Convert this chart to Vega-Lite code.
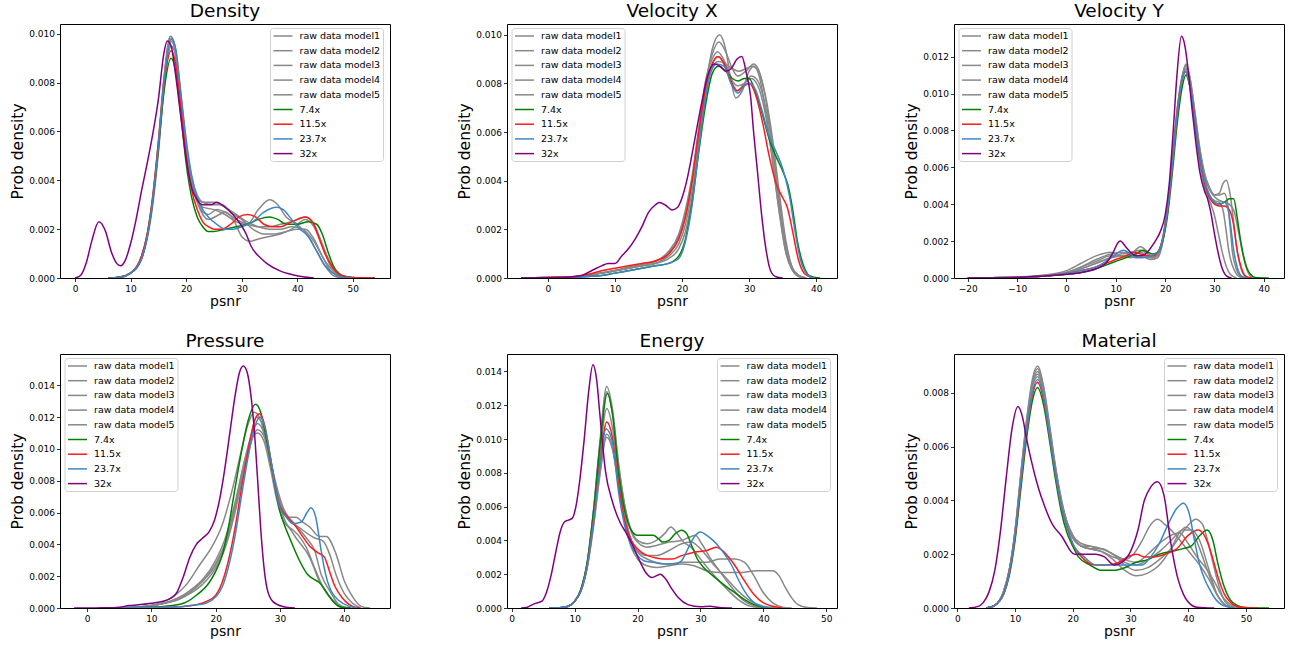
{
"$schema":"https://vega.github.io/schema/vega-lite/v6.json",
"background":"white",
"padding":{"left":10,"top":1,"right":0,"bottom":0},
"config":{
 "font":"DejaVu Sans",
 "view":{"stroke":"#000","strokeWidth":1},
 "axis":{"labelFont":"DejaVu Sans","labelFontSize":9,"labelColor":"#000","titleFont":"DejaVu Sans","titleFontWeight":"normal","titleColor":"#000","tickColor":"#000","tickSize":3.5,"tickWidth":0.8,"domain":false,"grid":false,"labelFlush":false,"labelOverlap":false},
 "axisX":{"labelPadding":2.5,"titlePadding":1,"titleFontSize":14},
 "axisY":{"labelPadding":2,"titlePadding":3,"titleFontSize":15.5},
 "title":{"font":"DejaVu Sans","fontSize":18.5,"fontWeight":"normal","color":"#000","baseline":"alphabetic","offset":4,"anchor":"middle","frame":"group"},
 "legend":{"labelFont":"DejaVu Sans","labelFontSize":9.5,"labelColor":"#000","symbolType":"M-1.9,0L1.9,0","symbolSize":100,"symbolStrokeWidth":1.5,"symbolOffset":5,"padding":2,"strokeColor":"#d0d0d0","fillColor":"white","cornerRadius":3,"rowPadding":3.7,"labelOffset":10.5,"title":null,"orient":"none","legendY":4},
 "line":{"interpolate":"monotone","strokeWidth":1.5}
},
"datasets":{
"d1":[
{"s":"m1","x":6,"y":0},{"s":"m1","x":8,"y":0.00003},{"s":"m1","x":10,"y":0.0002},{"s":"m1","x":12,"y":0.0009},{"s":"m1","x":13,"y":0.0018},{"s":"m1","x":14,"y":0.0033},{"s":"m1","x":15,"y":0.0055},{"s":"m1","x":16,"y":0.0081},{"s":"m1","x":17.2,"y":0.0099},{"s":"m1","x":18,"y":0.0094},{"s":"m1","x":19,"y":0.0074},{"s":"m1","x":20,"y":0.0053},{"s":"m1","x":21,"y":0.0039},{"s":"m1","x":22,"y":0.0033},{"s":"m1","x":23,"y":0.0031},{"s":"m1","x":25,"y":0.0031},{"s":"m1","x":27,"y":0.0029},{"s":"m1","x":29,"y":0.0026},{"s":"m1","x":31,"y":0.0023},{"s":"m1","x":33,"y":0.0021},{"s":"m1","x":35,"y":0.002},{"s":"m1","x":37,"y":0.002},{"s":"m1","x":39,"y":0.0021},{"s":"m1","x":41,"y":0.002},{"s":"m1","x":43,"y":0.0015},{"s":"m1","x":45,"y":0.0007},{"s":"m1","x":47,"y":0.0002},{"s":"m1","x":49,"y":0.00003},{"s":"m1","x":50,"y":0},
{"s":"m2","x":6,"y":0},{"s":"m2","x":8,"y":0.00003},{"s":"m2","x":10,"y":0.0002},{"s":"m2","x":12,"y":0.0009},{"s":"m2","x":13,"y":0.0017},{"s":"m2","x":14,"y":0.0031},{"s":"m2","x":15,"y":0.0052},{"s":"m2","x":16,"y":0.0078},{"s":"m2","x":17.3,"y":0.0097},{"s":"m2","x":18,"y":0.0093},{"s":"m2","x":19,"y":0.0075},{"s":"m2","x":20,"y":0.0054},{"s":"m2","x":21,"y":0.0039},{"s":"m2","x":22,"y":0.0031},{"s":"m2","x":23,"y":0.0026},{"s":"m2","x":24,"y":0.0024},{"s":"m2","x":26,"y":0.0026},{"s":"m2","x":27,"y":0.0027},{"s":"m2","x":28.5,"y":0.0024},{"s":"m2","x":30,"y":0.0017},{"s":"m2","x":31.5,"y":0.0015},{"s":"m2","x":33,"y":0.0016},{"s":"m2","x":35,"y":0.0017},{"s":"m2","x":37,"y":0.0018},{"s":"m2","x":39,"y":0.002},{"s":"m2","x":41.5,"y":0.0024},{"s":"m2","x":43,"y":0.0021},{"s":"m2","x":44.5,"y":0.0013},{"s":"m2","x":46,"y":0.0005},{"s":"m2","x":47.5,"y":0.0001},{"s":"m2","x":49,"y":0},
{"s":"m3","x":6,"y":0},{"s":"m3","x":8,"y":0.00003},{"s":"m3","x":10,"y":0.0002},{"s":"m3","x":12,"y":0.0008},{"s":"m3","x":13,"y":0.0016},{"s":"m3","x":14,"y":0.003},{"s":"m3","x":15,"y":0.0051},{"s":"m3","x":16,"y":0.0077},{"s":"m3","x":17.3,"y":0.0095},{"s":"m3","x":18,"y":0.0092},{"s":"m3","x":19,"y":0.0074},{"s":"m3","x":20,"y":0.0054},{"s":"m3","x":21,"y":0.004},{"s":"m3","x":22,"y":0.0032},{"s":"m3","x":23,"y":0.0029},{"s":"m3","x":25,"y":0.0028},{"s":"m3","x":27,"y":0.0026},{"s":"m3","x":29,"y":0.0023},{"s":"m3","x":31,"y":0.0022},{"s":"m3","x":33,"y":0.0028},{"s":"m3","x":35,"y":0.0032},{"s":"m3","x":36.5,"y":0.003},{"s":"m3","x":38,"y":0.0025},{"s":"m3","x":40,"y":0.0022},{"s":"m3","x":42,"y":0.0017},{"s":"m3","x":43.5,"y":0.0011},{"s":"m3","x":45,"y":0.0005},{"s":"m3","x":46.5,"y":0.0001},{"s":"m3","x":48,"y":0},
{"s":"m4","x":6,"y":0},{"s":"m4","x":8,"y":0.00003},{"s":"m4","x":10,"y":0.0002},{"s":"m4","x":12,"y":0.0009},{"s":"m4","x":13,"y":0.0018},{"s":"m4","x":14,"y":0.0034},{"s":"m4","x":15,"y":0.0056},{"s":"m4","x":16,"y":0.0082},{"s":"m4","x":17.2,"y":0.0099},{"s":"m4","x":18,"y":0.0095},{"s":"m4","x":19,"y":0.0076},{"s":"m4","x":20,"y":0.0055},{"s":"m4","x":21,"y":0.004},{"s":"m4","x":22,"y":0.0032},{"s":"m4","x":23,"y":0.0027},{"s":"m4","x":24,"y":0.0026},{"s":"m4","x":25.5,"y":0.0028},{"s":"m4","x":27,"y":0.0027},{"s":"m4","x":29,"y":0.0024},{"s":"m4","x":31,"y":0.0022},{"s":"m4","x":33,"y":0.0021},{"s":"m4","x":35,"y":0.0021},{"s":"m4","x":37,"y":0.0022},{"s":"m4","x":39,"y":0.0023},{"s":"m4","x":41.5,"y":0.0025},{"s":"m4","x":43,"y":0.0022},{"s":"m4","x":44.5,"y":0.0014},{"s":"m4","x":46,"y":0.0006},{"s":"m4","x":47.5,"y":0.0002},{"s":"m4","x":49,"y":0},
{"s":"m5","x":6,"y":0},{"s":"m5","x":8,"y":0.00003},{"s":"m5","x":10,"y":0.0002},{"s":"m5","x":12,"y":0.0008},{"s":"m5","x":13,"y":0.0017},{"s":"m5","x":14,"y":0.0032},{"s":"m5","x":15,"y":0.0053},{"s":"m5","x":16,"y":0.008},{"s":"m5","x":17.2,"y":0.0098},{"s":"m5","x":18,"y":0.0094},{"s":"m5","x":19,"y":0.0075},{"s":"m5","x":20,"y":0.0055},{"s":"m5","x":21,"y":0.0041},{"s":"m5","x":22,"y":0.0034},{"s":"m5","x":23,"y":0.0031},{"s":"m5","x":25,"y":0.003},{"s":"m5","x":26.5,"y":0.003},{"s":"m5","x":28,"y":0.0027},{"s":"m5","x":30,"y":0.0024},{"s":"m5","x":32,"y":0.002},{"s":"m5","x":34,"y":0.0018},{"s":"m5","x":36,"y":0.0018},{"s":"m5","x":38,"y":0.0019},{"s":"m5","x":40,"y":0.002},{"s":"m5","x":41.5,"y":0.002},{"s":"m5","x":43,"y":0.0016},{"s":"m5","x":44.5,"y":0.0009},{"s":"m5","x":46,"y":0.0003},{"s":"m5","x":48,"y":0.00005},{"s":"m5","x":50,"y":0},
{"s":"7.4x","x":6,"y":0},{"s":"7.4x","x":8,"y":0.00003},{"s":"7.4x","x":10,"y":0.0002},{"s":"7.4x","x":12,"y":0.0008},{"s":"7.4x","x":13,"y":0.0017},{"s":"7.4x","x":14,"y":0.0032},{"s":"7.4x","x":15,"y":0.0053},{"s":"7.4x","x":16,"y":0.0076},{"s":"7.4x","x":17.3,"y":0.009},{"s":"7.4x","x":18,"y":0.0086},{"s":"7.4x","x":19,"y":0.0068},{"s":"7.4x","x":20,"y":0.0047},{"s":"7.4x","x":21,"y":0.0033},{"s":"7.4x","x":22,"y":0.0025},{"s":"7.4x","x":23,"y":0.0021},{"s":"7.4x","x":24,"y":0.0019},{"s":"7.4x","x":25,"y":0.0019},{"s":"7.4x","x":27,"y":0.002},{"s":"7.4x","x":29,"y":0.0021},{"s":"7.4x","x":31,"y":0.0022},{"s":"7.4x","x":33,"y":0.0024},{"s":"7.4x","x":35,"y":0.0025},{"s":"7.4x","x":36.5,"y":0.0024},{"s":"7.4x","x":38,"y":0.0022},{"s":"7.4x","x":40,"y":0.0022},{"s":"7.4x","x":42,"y":0.0023},{"s":"7.4x","x":43.5,"y":0.0022},{"s":"7.4x","x":44.5,"y":0.0018},{"s":"7.4x","x":45.5,"y":0.0011},{"s":"7.4x","x":46.5,"y":0.0005},{"s":"7.4x","x":48,"y":0.0001},{"s":"7.4x","x":50,"y":0.00002},{"s":"7.4x","x":54,"y":0},
{"s":"11.5x","x":6,"y":0},{"s":"11.5x","x":8,"y":0.00003},{"s":"11.5x","x":10,"y":0.0002},{"s":"11.5x","x":12,"y":0.0009},{"s":"11.5x","x":13,"y":0.0018},{"s":"11.5x","x":14,"y":0.0033},{"s":"11.5x","x":15,"y":0.0055},{"s":"11.5x","x":16,"y":0.0079},{"s":"11.5x","x":17.3,"y":0.0093},{"s":"11.5x","x":18,"y":0.0089},{"s":"11.5x","x":19,"y":0.0071},{"s":"11.5x","x":20,"y":0.005},{"s":"11.5x","x":21,"y":0.0036},{"s":"11.5x","x":22,"y":0.0028},{"s":"11.5x","x":23,"y":0.0023},{"s":"11.5x","x":24,"y":0.0021},{"s":"11.5x","x":25,"y":0.002},{"s":"11.5x","x":26.5,"y":0.002},{"s":"11.5x","x":28,"y":0.0022},{"s":"11.5x","x":29.5,"y":0.0025},{"s":"11.5x","x":31,"y":0.0026},{"s":"11.5x","x":32.5,"y":0.0025},{"s":"11.5x","x":34,"y":0.0022},{"s":"11.5x","x":35.5,"y":0.0021},{"s":"11.5x","x":37,"y":0.0021},{"s":"11.5x","x":39,"y":0.0023},{"s":"11.5x","x":41.5,"y":0.0025},{"s":"11.5x","x":43,"y":0.0022},{"s":"11.5x","x":44,"y":0.0016},{"s":"11.5x","x":45,"y":0.001},{"s":"11.5x","x":46.5,"y":0.0004},{"s":"11.5x","x":48,"y":0.0001},{"s":"11.5x","x":50,"y":0.00002},{"s":"11.5x","x":54,"y":0},
{"s":"23.7x","x":6,"y":0},{"s":"23.7x","x":8,"y":0.00003},{"s":"23.7x","x":10,"y":0.0002},{"s":"23.7x","x":12,"y":0.0008},{"s":"23.7x","x":13,"y":0.0017},{"s":"23.7x","x":14,"y":0.0032},{"s":"23.7x","x":15,"y":0.0054},{"s":"23.7x","x":16,"y":0.008},{"s":"23.7x","x":17.4,"y":0.0098},{"s":"23.7x","x":18.2,"y":0.0093},{"s":"23.7x","x":19,"y":0.0077},{"s":"23.7x","x":20,"y":0.0057},{"s":"23.7x","x":21,"y":0.0042},{"s":"23.7x","x":22,"y":0.0033},{"s":"23.7x","x":23,"y":0.0028},{"s":"23.7x","x":24,"y":0.0025},{"s":"23.7x","x":25.5,"y":0.0022},{"s":"23.7x","x":27,"y":0.002},{"s":"23.7x","x":28.5,"y":0.002},{"s":"23.7x","x":30,"y":0.0021},{"s":"23.7x","x":32,"y":0.0023},{"s":"23.7x","x":34,"y":0.0027},{"s":"23.7x","x":36.3,"y":0.0029},{"s":"23.7x","x":37.5,"y":0.0028},{"s":"23.7x","x":39,"y":0.0024},{"s":"23.7x","x":40.5,"y":0.002},{"s":"23.7x","x":42,"y":0.0017},{"s":"23.7x","x":43.5,"y":0.0011},{"s":"23.7x","x":45,"y":0.0005},{"s":"23.7x","x":46.5,"y":0.0002},{"s":"23.7x","x":48,"y":0.00003},{"s":"23.7x","x":50,"y":0},
{"s":"32x","x":0,"y":0},{"s":"32x","x":1,"y":0.0001},{"s":"32x","x":2,"y":0.0006},{"s":"32x","x":3,"y":0.0015},{"s":"32x","x":4.3,"y":0.0023},{"s":"32x","x":5.5,"y":0.0019},{"s":"32x","x":6.5,"y":0.0011},{"s":"32x","x":7.5,"y":0.0006},{"s":"32x","x":8.2,"y":0.0005},{"s":"32x","x":9,"y":0.0007},{"s":"32x","x":10,"y":0.0014},{"s":"32x","x":11,"y":0.0024},{"s":"32x","x":12,"y":0.0036},{"s":"32x","x":13,"y":0.0047},{"s":"32x","x":14,"y":0.0059},{"s":"32x","x":15,"y":0.0073},{"s":"32x","x":16,"y":0.0092},{"s":"32x","x":16.6,"y":0.0097},{"s":"32x","x":17.3,"y":0.0095},{"s":"32x","x":18,"y":0.0085},{"s":"32x","x":19,"y":0.0067},{"s":"32x","x":20,"y":0.0049},{"s":"32x","x":21,"y":0.0037},{"s":"32x","x":22,"y":0.0032},{"s":"32x","x":23,"y":0.003},{"s":"32x","x":24.5,"y":0.003},{"s":"32x","x":25.5,"y":0.0031},{"s":"32x","x":27,"y":0.0029},{"s":"32x","x":28.4,"y":0.0026},{"s":"32x","x":29.8,"y":0.0022},{"s":"32x","x":30.8,"y":0.0018},{"s":"32x","x":31.7,"y":0.0013},{"s":"32x","x":32.6,"y":0.001},{"s":"32x","x":33.5,"y":0.0008},{"s":"32x","x":34.5,"y":0.0006},{"s":"32x","x":36.8,"y":0.0003},{"s":"32x","x":39,"y":0.00014},{"s":"32x","x":41,"y":0.00005},{"s":"32x","x":43,"y":0}
],
"d2":[
{"s":"m1","x":-4,"y":0},{"s":"m1","x":0,"y":0.00002},{"s":"m1","x":4,"y":0.00005},{"s":"m1","x":6,"y":0.0001},{"s":"m1","x":8,"y":0.0002},{"s":"m1","x":10,"y":0.0003},{"s":"m1","x":12,"y":0.0004},{"s":"m1","x":14,"y":0.0005},{"s":"m1","x":16,"y":0.0006},{"s":"m1","x":18,"y":0.0009},{"s":"m1","x":19.5,"y":0.0014},{"s":"m1","x":20.5,"y":0.0022},{"s":"m1","x":21.5,"y":0.0036},{"s":"m1","x":22.5,"y":0.0056},{"s":"m1","x":23.5,"y":0.0078},{"s":"m1","x":24.5,"y":0.0094},{"s":"m1","x":25.6,"y":0.01},{"s":"m1","x":26.5,"y":0.0094},{"s":"m1","x":27.3,"y":0.0081},{"s":"m1","x":28,"y":0.0074},{"s":"m1","x":29,"y":0.0077},{"s":"m1","x":30,"y":0.0085},{"s":"m1","x":30.8,"y":0.0087},{"s":"m1","x":31.5,"y":0.0083},{"s":"m1","x":32.5,"y":0.0068},{"s":"m1","x":33.5,"y":0.0048},{"s":"m1","x":34.5,"y":0.0027},{"s":"m1","x":35.5,"y":0.001},{"s":"m1","x":36.5,"y":0.0003},{"s":"m1","x":37.5,"y":0.00005},{"s":"m1","x":38.5,"y":0},
{"s":"m2","x":-4,"y":0},{"s":"m2","x":0,"y":0.00002},{"s":"m2","x":4,"y":0.00005},{"s":"m2","x":6,"y":0.0001},{"s":"m2","x":8,"y":0.0002},{"s":"m2","x":10,"y":0.0003},{"s":"m2","x":12,"y":0.0004},{"s":"m2","x":14,"y":0.0005},{"s":"m2","x":16,"y":0.0006},{"s":"m2","x":18,"y":0.001},{"s":"m2","x":19.5,"y":0.0017},{"s":"m2","x":20.5,"y":0.0026},{"s":"m2","x":21.5,"y":0.004},{"s":"m2","x":22.5,"y":0.006},{"s":"m2","x":23.5,"y":0.008},{"s":"m2","x":24.5,"y":0.0092},{"s":"m2","x":25.5,"y":0.0097},{"s":"m2","x":26.5,"y":0.0093},{"s":"m2","x":27.5,"y":0.0086},{"s":"m2","x":28.3,"y":0.0083},{"s":"m2","x":29.5,"y":0.0085},{"s":"m2","x":30.7,"y":0.0088},{"s":"m2","x":31.5,"y":0.0085},{"s":"m2","x":32.5,"y":0.0073},{"s":"m2","x":33.5,"y":0.0053},{"s":"m2","x":34.5,"y":0.003},{"s":"m2","x":35.5,"y":0.0012},{"s":"m2","x":36.5,"y":0.0003},{"s":"m2","x":37.5,"y":0.00005},{"s":"m2","x":38.5,"y":0},
{"s":"m3","x":-4,"y":0},{"s":"m3","x":0,"y":0.00002},{"s":"m3","x":4,"y":0.00006},{"s":"m3","x":6,"y":0.00012},{"s":"m3","x":8,"y":0.00022},{"s":"m3","x":10,"y":0.00032},{"s":"m3","x":12,"y":0.00045},{"s":"m3","x":14,"y":0.00055},{"s":"m3","x":16,"y":0.00068},{"s":"m3","x":18,"y":0.0011},{"s":"m3","x":19.5,"y":0.0018},{"s":"m3","x":20.5,"y":0.0028},{"s":"m3","x":21.5,"y":0.0042},{"s":"m3","x":22.5,"y":0.0062},{"s":"m3","x":23.5,"y":0.0081},{"s":"m3","x":24.5,"y":0.009},{"s":"m3","x":25.3,"y":0.0093},{"s":"m3","x":26.5,"y":0.0088},{"s":"m3","x":27.5,"y":0.0081},{"s":"m3","x":28.3,"y":0.0079},{"s":"m3","x":29.3,"y":0.008},{"s":"m3","x":30.3,"y":0.0082},{"s":"m3","x":31.3,"y":0.0079},{"s":"m3","x":32.3,"y":0.0069},{"s":"m3","x":33.3,"y":0.0052},{"s":"m3","x":34.3,"y":0.0031},{"s":"m3","x":35.3,"y":0.0013},{"s":"m3","x":36.3,"y":0.0004},{"s":"m3","x":37.3,"y":0.0001},{"s":"m3","x":38.5,"y":0},
{"s":"m4","x":-4,"y":0},{"s":"m4","x":0,"y":0.00002},{"s":"m4","x":4,"y":0.00005},{"s":"m4","x":6,"y":0.0001},{"s":"m4","x":8,"y":0.0002},{"s":"m4","x":10,"y":0.0003},{"s":"m4","x":12,"y":0.0004},{"s":"m4","x":14,"y":0.0005},{"s":"m4","x":16,"y":0.0006},{"s":"m4","x":18,"y":0.0008},{"s":"m4","x":19.5,"y":0.0012},{"s":"m4","x":20.5,"y":0.0019},{"s":"m4","x":21.5,"y":0.0033},{"s":"m4","x":22.5,"y":0.0054},{"s":"m4","x":23.5,"y":0.0075},{"s":"m4","x":24.5,"y":0.0088},{"s":"m4","x":25.5,"y":0.0091},{"s":"m4","x":26.5,"y":0.0086},{"s":"m4","x":27.5,"y":0.0079},{"s":"m4","x":28.3,"y":0.0077},{"s":"m4","x":29.3,"y":0.008},{"s":"m4","x":30.3,"y":0.0083},{"s":"m4","x":31.3,"y":0.0081},{"s":"m4","x":32.3,"y":0.0072},{"s":"m4","x":33.3,"y":0.0057},{"s":"m4","x":34.3,"y":0.0036},{"s":"m4","x":35.3,"y":0.0016},{"s":"m4","x":36.3,"y":0.0005},{"s":"m4","x":37.3,"y":0.0001},{"s":"m4","x":38.5,"y":0},
{"s":"m5","x":-4,"y":0},{"s":"m5","x":0,"y":0.00002},{"s":"m5","x":4,"y":0.00005},{"s":"m5","x":6,"y":0.0001},{"s":"m5","x":8,"y":0.0002},{"s":"m5","x":10,"y":0.0003},{"s":"m5","x":12,"y":0.0004},{"s":"m5","x":14,"y":0.00055},{"s":"m5","x":16,"y":0.0007},{"s":"m5","x":18,"y":0.001},{"s":"m5","x":19.5,"y":0.0016},{"s":"m5","x":20.5,"y":0.0025},{"s":"m5","x":21.5,"y":0.004},{"s":"m5","x":22.5,"y":0.0061},{"s":"m5","x":23.5,"y":0.0079},{"s":"m5","x":24.5,"y":0.0087},{"s":"m5","x":25.5,"y":0.0089},{"s":"m5","x":26.5,"y":0.0088},{"s":"m5","x":27.5,"y":0.0086},{"s":"m5","x":28.5,"y":0.0085},{"s":"m5","x":29.5,"y":0.0086},{"s":"m5","x":30.5,"y":0.0087},{"s":"m5","x":31.5,"y":0.0084},{"s":"m5","x":32.5,"y":0.0074},{"s":"m5","x":33.5,"y":0.0057},{"s":"m5","x":34.5,"y":0.0035},{"s":"m5","x":35.5,"y":0.0015},{"s":"m5","x":36.5,"y":0.0004},{"s":"m5","x":37.5,"y":0.0001},{"s":"m5","x":38.5,"y":0},
{"s":"7.4x","x":-4,"y":0},{"s":"7.4x","x":0,"y":0.00001},{"s":"7.4x","x":4,"y":0.00003},{"s":"7.4x","x":6,"y":0.00006},{"s":"7.4x","x":8,"y":0.0001},{"s":"7.4x","x":10,"y":0.0002},{"s":"7.4x","x":12,"y":0.0003},{"s":"7.4x","x":14,"y":0.0004},{"s":"7.4x","x":16,"y":0.0005},{"s":"7.4x","x":18,"y":0.0006},{"s":"7.4x","x":19.5,"y":0.0009},{"s":"7.4x","x":20.5,"y":0.0016},{"s":"7.4x","x":21.5,"y":0.0031},{"s":"7.4x","x":22.5,"y":0.0052},{"s":"7.4x","x":23.5,"y":0.0071},{"s":"7.4x","x":24.5,"y":0.0084},{"s":"7.4x","x":25.4,"y":0.0087},{"s":"7.4x","x":26.5,"y":0.0085},{"s":"7.4x","x":27.5,"y":0.0082},{"s":"7.4x","x":28.4,"y":0.0081},{"s":"7.4x","x":29.3,"y":0.0082},{"s":"7.4x","x":30,"y":0.0082},{"s":"7.4x","x":31,"y":0.0076},{"s":"7.4x","x":32,"y":0.0067},{"s":"7.4x","x":33,"y":0.0057},{"s":"7.4x","x":34,"y":0.005},{"s":"7.4x","x":35,"y":0.0044},{"s":"7.4x","x":35.8,"y":0.0038},{"s":"7.4x","x":36.5,"y":0.0028},{"s":"7.4x","x":37.2,"y":0.0015},{"s":"7.4x","x":38,"y":0.0006},{"s":"7.4x","x":39,"y":0.0001},{"s":"7.4x","x":40.6,"y":0},
{"s":"11.5x","x":-4,"y":0},{"s":"11.5x","x":0,"y":0.00002},{"s":"11.5x","x":4,"y":0.00006},{"s":"11.5x","x":6,"y":0.00015},{"s":"11.5x","x":8,"y":0.0003},{"s":"11.5x","x":10,"y":0.0004},{"s":"11.5x","x":12,"y":0.0005},{"s":"11.5x","x":14,"y":0.0006},{"s":"11.5x","x":16,"y":0.0007},{"s":"11.5x","x":18,"y":0.001},{"s":"11.5x","x":19.5,"y":0.0016},{"s":"11.5x","x":20.5,"y":0.0025},{"s":"11.5x","x":21.5,"y":0.004},{"s":"11.5x","x":22.5,"y":0.006},{"s":"11.5x","x":23.5,"y":0.0078},{"s":"11.5x","x":24.5,"y":0.0088},{"s":"11.5x","x":25.3,"y":0.0091},{"s":"11.5x","x":26.3,"y":0.0088},{"s":"11.5x","x":27.3,"y":0.0081},{"s":"11.5x","x":28.2,"y":0.0077},{"s":"11.5x","x":29.2,"y":0.0079},{"s":"11.5x","x":30,"y":0.008},{"s":"11.5x","x":31,"y":0.0075},{"s":"11.5x","x":32,"y":0.0064},{"s":"11.5x","x":33,"y":0.005},{"s":"11.5x","x":34,"y":0.0039},{"s":"11.5x","x":35,"y":0.0033},{"s":"11.5x","x":35.7,"y":0.0029},{"s":"11.5x","x":36.5,"y":0.0019},{"s":"11.5x","x":37.3,"y":0.0008},{"s":"11.5x","x":38.2,"y":0.0002},{"s":"11.5x","x":39.5,"y":0},
{"s":"23.7x","x":-4,"y":0},{"s":"23.7x","x":0,"y":0.00001},{"s":"23.7x","x":4,"y":0.00003},{"s":"23.7x","x":6,"y":0.00006},{"s":"23.7x","x":8,"y":0.0001},{"s":"23.7x","x":10,"y":0.0002},{"s":"23.7x","x":12,"y":0.0003},{"s":"23.7x","x":14,"y":0.0004},{"s":"23.7x","x":16,"y":0.0005},{"s":"23.7x","x":18,"y":0.0006},{"s":"23.7x","x":19.5,"y":0.0008},{"s":"23.7x","x":20.5,"y":0.0015},{"s":"23.7x","x":21.5,"y":0.003},{"s":"23.7x","x":22.5,"y":0.0053},{"s":"23.7x","x":23.5,"y":0.0074},{"s":"23.7x","x":24.5,"y":0.0086},{"s":"23.7x","x":25.2,"y":0.0088},{"s":"23.7x","x":26.3,"y":0.0087},{"s":"23.7x","x":27.3,"y":0.008},{"s":"23.7x","x":28.3,"y":0.0076},{"s":"23.7x","x":29.3,"y":0.0079},{"s":"23.7x","x":30.2,"y":0.008},{"s":"23.7x","x":31,"y":0.0077},{"s":"23.7x","x":32,"y":0.0068},{"s":"23.7x","x":33,"y":0.0058},{"s":"23.7x","x":34,"y":0.0052},{"s":"23.7x","x":35,"y":0.0045},{"s":"23.7x","x":36,"y":0.0034},{"s":"23.7x","x":36.8,"y":0.002},{"s":"23.7x","x":37.6,"y":0.0008},{"s":"23.7x","x":38.5,"y":0.0002},{"s":"23.7x","x":39.5,"y":0},
{"s":"32x","x":-4,"y":0},{"s":"32x","x":0,"y":0.00001},{"s":"32x","x":3,"y":0.00003},{"s":"32x","x":5,"y":0.0001},{"s":"32x","x":6.5,"y":0.0003},{"s":"32x","x":8,"y":0.0005},{"s":"32x","x":9,"y":0.0006},{"s":"32x","x":10,"y":0.0006},{"s":"32x","x":11,"y":0.0009},{"s":"32x","x":12,"y":0.0012},{"s":"32x","x":13,"y":0.0016},{"s":"32x","x":14,"y":0.0021},{"s":"32x","x":15,"y":0.0027},{"s":"32x","x":16,"y":0.003},{"s":"32x","x":16.6,"y":0.0031},{"s":"32x","x":17.5,"y":0.003},{"s":"32x","x":18.5,"y":0.0028},{"s":"32x","x":19.3,"y":0.0029},{"s":"32x","x":20,"y":0.0033},{"s":"32x","x":20.7,"y":0.004},{"s":"32x","x":21.5,"y":0.0051},{"s":"32x","x":22.3,"y":0.0063},{"s":"32x","x":23,"y":0.0073},{"s":"32x","x":23.8,"y":0.0083},{"s":"32x","x":24.8,"y":0.0088},{"s":"32x","x":25.7,"y":0.0087},{"s":"32x","x":26.5,"y":0.0085},{"s":"32x","x":27.3,"y":0.0086},{"s":"32x","x":28.2,"y":0.009},{"s":"32x","x":28.9,"y":0.0091},{"s":"32x","x":29.6,"y":0.0084},{"s":"32x","x":30.2,"y":0.0075},{"s":"32x","x":30.7,"y":0.0059},{"s":"32x","x":31.2,"y":0.0045},{"s":"32x","x":31.9,"y":0.0025},{"s":"32x","x":32.5,"y":0.0012},{"s":"32x","x":33.2,"y":0.0003},{"s":"32x","x":34,"y":0.00005},{"s":"32x","x":35,"y":0}
],
"d3":[
{"s":"m1","x":-20,"y":0},{"s":"m1","x":-15,"y":0.00002},{"s":"m1","x":-10,"y":0.00005},{"s":"m1","x":-5,"y":0.00012},{"s":"m1","x":0,"y":0.0003},{"s":"m1","x":3,"y":0.0006},{"s":"m1","x":6,"y":0.001},{"s":"m1","x":9,"y":0.0013},{"s":"m1","x":11,"y":0.0014},{"s":"m1","x":13,"y":0.0013},{"s":"m1","x":15,"y":0.0012},{"s":"m1","x":17,"y":0.0011},{"s":"m1","x":18.5,"y":0.0013},{"s":"m1","x":19.5,"y":0.0022},{"s":"m1","x":20.5,"y":0.004},{"s":"m1","x":21.5,"y":0.0066},{"s":"m1","x":22.5,"y":0.0093},{"s":"m1","x":23.5,"y":0.011},{"s":"m1","x":24.2,"y":0.0114},{"s":"m1","x":25,"y":0.0107},{"s":"m1","x":26,"y":0.0088},{"s":"m1","x":27,"y":0.0068},{"s":"m1","x":28,"y":0.0055},{"s":"m1","x":29,"y":0.0048},{"s":"m1","x":30,"y":0.0045},{"s":"m1","x":31,"y":0.0045},{"s":"m1","x":32,"y":0.0046},{"s":"m1","x":32.7,"y":0.004},{"s":"m1","x":33.2,"y":0.0027},{"s":"m1","x":33.6,"y":0.0015},{"s":"m1","x":34.3,"y":0.0006},{"s":"m1","x":35.2,"y":0.0001},{"s":"m1","x":36,"y":0},
{"s":"m2","x":-20,"y":0},{"s":"m2","x":-15,"y":0.00002},{"s":"m2","x":-10,"y":0.00005},{"s":"m2","x":-5,"y":0.0001},{"s":"m2","x":0,"y":0.00025},{"s":"m2","x":3,"y":0.0005},{"s":"m2","x":6,"y":0.0008},{"s":"m2","x":9,"y":0.0011},{"s":"m2","x":11,"y":0.0012},{"s":"m2","x":13,"y":0.0013},{"s":"m2","x":15,"y":0.0017},{"s":"m2","x":16.5,"y":0.0014},{"s":"m2","x":17.5,"y":0.0011},{"s":"m2","x":18.5,"y":0.0013},{"s":"m2","x":19.5,"y":0.002},{"s":"m2","x":20.5,"y":0.0038},{"s":"m2","x":21.5,"y":0.0064},{"s":"m2","x":22.5,"y":0.0091},{"s":"m2","x":23.5,"y":0.0109},{"s":"m2","x":24.2,"y":0.0115},{"s":"m2","x":25,"y":0.0109},{"s":"m2","x":26,"y":0.0091},{"s":"m2","x":27,"y":0.0071},{"s":"m2","x":28,"y":0.0057},{"s":"m2","x":29,"y":0.0049},{"s":"m2","x":30,"y":0.0045},{"s":"m2","x":31,"y":0.0046},{"s":"m2","x":31.7,"y":0.0051},{"s":"m2","x":32.4,"y":0.0053},{"s":"m2","x":33.2,"y":0.0045},{"s":"m2","x":33.9,"y":0.003},{"s":"m2","x":34.6,"y":0.0015},{"s":"m2","x":35.3,"y":0.0006},{"s":"m2","x":36.2,"y":0.0001},{"s":"m2","x":37,"y":0},
{"s":"m3","x":-20,"y":0},{"s":"m3","x":-15,"y":0.00002},{"s":"m3","x":-10,"y":0.00006},{"s":"m3","x":-5,"y":0.00015},{"s":"m3","x":0,"y":0.0004},{"s":"m3","x":3,"y":0.0008},{"s":"m3","x":6,"y":0.0012},{"s":"m3","x":9,"y":0.0014},{"s":"m3","x":11,"y":0.0012},{"s":"m3","x":13,"y":0.0011},{"s":"m3","x":15,"y":0.0012},{"s":"m3","x":17,"y":0.001},{"s":"m3","x":18.5,"y":0.0011},{"s":"m3","x":19.5,"y":0.0019},{"s":"m3","x":20.5,"y":0.0037},{"s":"m3","x":21.5,"y":0.0063},{"s":"m3","x":22.5,"y":0.009},{"s":"m3","x":23.5,"y":0.0108},{"s":"m3","x":24.2,"y":0.0113},{"s":"m3","x":25,"y":0.0106},{"s":"m3","x":26,"y":0.0087},{"s":"m3","x":27,"y":0.0066},{"s":"m3","x":28,"y":0.0052},{"s":"m3","x":29,"y":0.0045},{"s":"m3","x":30,"y":0.0042},{"s":"m3","x":31,"y":0.0041},{"s":"m3","x":31.8,"y":0.0036},{"s":"m3","x":32.4,"y":0.0025},{"s":"m3","x":32.9,"y":0.0015},{"s":"m3","x":33.6,"y":0.0007},{"s":"m3","x":34.5,"y":0.0002},{"s":"m3","x":35.5,"y":0},
{"s":"m4","x":-20,"y":0},{"s":"m4","x":-15,"y":0.00002},{"s":"m4","x":-10,"y":0.00005},{"s":"m4","x":-5,"y":0.0001},{"s":"m4","x":0,"y":0.0003},{"s":"m4","x":3,"y":0.0005},{"s":"m4","x":6,"y":0.0008},{"s":"m4","x":9,"y":0.0011},{"s":"m4","x":11,"y":0.0013},{"s":"m4","x":13,"y":0.0014},{"s":"m4","x":15,"y":0.0015},{"s":"m4","x":16.5,"y":0.0013},{"s":"m4","x":17.5,"y":0.0011},{"s":"m4","x":18.5,"y":0.0013},{"s":"m4","x":19.5,"y":0.0021},{"s":"m4","x":20.5,"y":0.0039},{"s":"m4","x":21.5,"y":0.0065},{"s":"m4","x":22.5,"y":0.0092},{"s":"m4","x":23.5,"y":0.0109},{"s":"m4","x":24.2,"y":0.0112},{"s":"m4","x":25,"y":0.0104},{"s":"m4","x":26,"y":0.0083},{"s":"m4","x":27,"y":0.0062},{"s":"m4","x":28,"y":0.0049},{"s":"m4","x":29,"y":0.0042},{"s":"m4","x":30,"y":0.0034},{"s":"m4","x":30.8,"y":0.0024},{"s":"m4","x":31.5,"y":0.0015},{"s":"m4","x":32.3,"y":0.0007},{"s":"m4","x":33.2,"y":0.0002},{"s":"m4","x":34.5,"y":0},
{"s":"m5","x":-20,"y":0},{"s":"m5","x":-15,"y":0.00002},{"s":"m5","x":-10,"y":0.00005},{"s":"m5","x":-5,"y":0.0001},{"s":"m5","x":0,"y":0.0003},{"s":"m5","x":3,"y":0.0006},{"s":"m5","x":6,"y":0.0009},{"s":"m5","x":9,"y":0.0012},{"s":"m5","x":11,"y":0.0012},{"s":"m5","x":13,"y":0.0012},{"s":"m5","x":15,"y":0.0014},{"s":"m5","x":17,"y":0.0011},{"s":"m5","x":18.5,"y":0.0012},{"s":"m5","x":19.5,"y":0.002},{"s":"m5","x":20.5,"y":0.0038},{"s":"m5","x":21.5,"y":0.0065},{"s":"m5","x":22.5,"y":0.0092},{"s":"m5","x":23.5,"y":0.011},{"s":"m5","x":24.2,"y":0.0116},{"s":"m5","x":25,"y":0.0109},{"s":"m5","x":26,"y":0.009},{"s":"m5","x":27,"y":0.007},{"s":"m5","x":28,"y":0.0056},{"s":"m5","x":29,"y":0.0048},{"s":"m5","x":30,"y":0.0044},{"s":"m5","x":31,"y":0.0042},{"s":"m5","x":32,"y":0.0041},{"s":"m5","x":33,"y":0.004},{"s":"m5","x":34,"y":0.0036},{"s":"m5","x":34.8,"y":0.0026},{"s":"m5","x":35.6,"y":0.0015},{"s":"m5","x":36.4,"y":0.0006},{"s":"m5","x":37.3,"y":0.0001},{"s":"m5","x":38,"y":0},
{"s":"7.4x","x":-20,"y":0},{"s":"7.4x","x":-10,"y":0.00003},{"s":"7.4x","x":-5,"y":0.0001},{"s":"7.4x","x":0,"y":0.0002},{"s":"7.4x","x":3,"y":0.0003},{"s":"7.4x","x":6,"y":0.0005},{"s":"7.4x","x":8,"y":0.0007},{"s":"7.4x","x":10,"y":0.0009},{"s":"7.4x","x":12,"y":0.0011},{"s":"7.4x","x":14,"y":0.0013},{"s":"7.4x","x":15.5,"y":0.0015},{"s":"7.4x","x":16.5,"y":0.0014},{"s":"7.4x","x":17.5,"y":0.0013},{"s":"7.4x","x":18.5,"y":0.0014},{"s":"7.4x","x":19.5,"y":0.002},{"s":"7.4x","x":20.5,"y":0.0034},{"s":"7.4x","x":21.5,"y":0.0058},{"s":"7.4x","x":22.5,"y":0.0085},{"s":"7.4x","x":23.5,"y":0.0104},{"s":"7.4x","x":24.2,"y":0.011},{"s":"7.4x","x":25,"y":0.0104},{"s":"7.4x","x":26,"y":0.0086},{"s":"7.4x","x":27,"y":0.0066},{"s":"7.4x","x":28,"y":0.0052},{"s":"7.4x","x":29,"y":0.0044},{"s":"7.4x","x":30,"y":0.0041},{"s":"7.4x","x":31,"y":0.004},{"s":"7.4x","x":32,"y":0.0041},{"s":"7.4x","x":33,"y":0.0043},{"s":"7.4x","x":33.9,"y":0.0043},{"s":"7.4x","x":34.6,"y":0.0033},{"s":"7.4x","x":35.2,"y":0.0022},{"s":"7.4x","x":35.8,"y":0.0013},{"s":"7.4x","x":36.5,"y":0.0006},{"s":"7.4x","x":37.3,"y":0.0002},{"s":"7.4x","x":38.3,"y":0.00003},{"s":"7.4x","x":41,"y":0},
{"s":"11.5x","x":-20,"y":0},{"s":"11.5x","x":-10,"y":0.00003},{"s":"11.5x","x":-5,"y":0.0001},{"s":"11.5x","x":0,"y":0.00025},{"s":"11.5x","x":3,"y":0.0004},{"s":"11.5x","x":6,"y":0.0006},{"s":"11.5x","x":8,"y":0.0008},{"s":"11.5x","x":10,"y":0.001},{"s":"11.5x","x":12,"y":0.0012},{"s":"11.5x","x":14,"y":0.0014},{"s":"11.5x","x":15,"y":0.0013},{"s":"11.5x","x":16.5,"y":0.0012},{"s":"11.5x","x":17.5,"y":0.0012},{"s":"11.5x","x":18.5,"y":0.0014},{"s":"11.5x","x":19.5,"y":0.0021},{"s":"11.5x","x":20.5,"y":0.0037},{"s":"11.5x","x":21.5,"y":0.0062},{"s":"11.5x","x":22.5,"y":0.009},{"s":"11.5x","x":23.5,"y":0.0108},{"s":"11.5x","x":24.1,"y":0.0112},{"s":"11.5x","x":25,"y":0.0105},{"s":"11.5x","x":26,"y":0.0087},{"s":"11.5x","x":27,"y":0.0067},{"s":"11.5x","x":28,"y":0.0052},{"s":"11.5x","x":29,"y":0.0044},{"s":"11.5x","x":30,"y":0.004},{"s":"11.5x","x":31,"y":0.0039},{"s":"11.5x","x":32,"y":0.0039},{"s":"11.5x","x":33,"y":0.0037},{"s":"11.5x","x":33.8,"y":0.003},{"s":"11.5x","x":34.6,"y":0.0015},{"s":"11.5x","x":35.4,"y":0.0006},{"s":"11.5x","x":36.3,"y":0.0001},{"s":"11.5x","x":37.5,"y":0},
{"s":"23.7x","x":-20,"y":0},{"s":"23.7x","x":-10,"y":0.00003},{"s":"23.7x","x":-5,"y":0.0001},{"s":"23.7x","x":0,"y":0.00025},{"s":"23.7x","x":3,"y":0.0004},{"s":"23.7x","x":6,"y":0.0006},{"s":"23.7x","x":8,"y":0.0009},{"s":"23.7x","x":10,"y":0.0013},{"s":"23.7x","x":11.5,"y":0.0015},{"s":"23.7x","x":13,"y":0.0013},{"s":"23.7x","x":14,"y":0.0011},{"s":"23.7x","x":15.5,"y":0.0011},{"s":"23.7x","x":17,"y":0.0012},{"s":"23.7x","x":18.5,"y":0.0014},{"s":"23.7x","x":19.5,"y":0.0021},{"s":"23.7x","x":20.5,"y":0.0037},{"s":"23.7x","x":21.5,"y":0.0062},{"s":"23.7x","x":22.5,"y":0.009},{"s":"23.7x","x":23.5,"y":0.0108},{"s":"23.7x","x":24.1,"y":0.0112},{"s":"23.7x","x":25,"y":0.0105},{"s":"23.7x","x":26,"y":0.0087},{"s":"23.7x","x":27,"y":0.0067},{"s":"23.7x","x":28,"y":0.0053},{"s":"23.7x","x":29,"y":0.0045},{"s":"23.7x","x":30,"y":0.0041},{"s":"23.7x","x":31,"y":0.004},{"s":"23.7x","x":32,"y":0.0041},{"s":"23.7x","x":32.7,"y":0.0038},{"s":"23.7x","x":33.3,"y":0.0028},{"s":"23.7x","x":33.9,"y":0.0015},{"s":"23.7x","x":34.6,"y":0.0006},{"s":"23.7x","x":35.5,"y":0.0001},{"s":"23.7x","x":36.5,"y":0},
{"s":"32x","x":-20,"y":0},{"s":"32x","x":-10,"y":0.00003},{"s":"32x","x":-5,"y":0.0001},{"s":"32x","x":0,"y":0.0002},{"s":"32x","x":3,"y":0.0003},{"s":"32x","x":6,"y":0.0005},{"s":"32x","x":8,"y":0.0008},{"s":"32x","x":9.5,"y":0.0014},{"s":"32x","x":10.4,"y":0.0019},{"s":"32x","x":10.9,"y":0.002},{"s":"32x","x":12,"y":0.0017},{"s":"32x","x":13,"y":0.0014},{"s":"32x","x":14,"y":0.0012},{"s":"32x","x":15,"y":0.0012},{"s":"32x","x":16,"y":0.0013},{"s":"32x","x":17,"y":0.0016},{"s":"32x","x":18,"y":0.002},{"s":"32x","x":19,"y":0.0025},{"s":"32x","x":20,"y":0.0034},{"s":"32x","x":20.8,"y":0.005},{"s":"32x","x":21.6,"y":0.0078},{"s":"32x","x":22.4,"y":0.011},{"s":"32x","x":23.3,"y":0.0131},{"s":"32x","x":24,"y":0.0126},{"s":"32x","x":24.7,"y":0.0112},{"s":"32x","x":25.4,"y":0.0093},{"s":"32x","x":26.2,"y":0.0074},{"s":"32x","x":27,"y":0.0058},{"s":"32x","x":28,"y":0.0047},{"s":"32x","x":28.6,"y":0.0043},{"s":"32x","x":29.3,"y":0.0035},{"s":"32x","x":30,"y":0.0024},{"s":"32x","x":30.8,"y":0.0013},{"s":"32x","x":31.6,"y":0.0005},{"s":"32x","x":32.5,"y":0.0001},{"s":"32x","x":33.5,"y":0}
],
"d4":[
{"s":"m1","x":2,"y":0},{"s":"m1","x":6,"y":0.00003},{"s":"m1","x":9,"y":0.0001},{"s":"m1","x":12,"y":0.0004},{"s":"m1","x":14,"y":0.0009},{"s":"m1","x":15.5,"y":0.0015},{"s":"m1","x":17.5,"y":0.0027},{"s":"m1","x":19.5,"y":0.0039},{"s":"m1","x":21,"y":0.0052},{"s":"m1","x":22.5,"y":0.0073},{"s":"m1","x":24,"y":0.0099},{"s":"m1","x":25,"y":0.0115},{"s":"m1","x":26,"y":0.0123},{"s":"m1","x":27,"y":0.0118},{"s":"m1","x":28,"y":0.0101},{"s":"m1","x":29,"y":0.0081},{"s":"m1","x":30,"y":0.0064},{"s":"m1","x":31,"y":0.0053},{"s":"m1","x":32,"y":0.0049},{"s":"m1","x":33,"y":0.0045},{"s":"m1","x":34.1,"y":0.0038},{"s":"m1","x":35.4,"y":0.0025},{"s":"m1","x":36.7,"y":0.0013},{"s":"m1","x":38.2,"y":0.0005},{"s":"m1","x":39.7,"y":0.0001},{"s":"m1","x":41,"y":0},
{"s":"m2","x":2,"y":0},{"s":"m2","x":6,"y":0.00003},{"s":"m2","x":9,"y":0.0001},{"s":"m2","x":12,"y":0.0003},{"s":"m2","x":14,"y":0.0006},{"s":"m2","x":16,"y":0.0011},{"s":"m2","x":18,"y":0.0018},{"s":"m2","x":20,"y":0.003},{"s":"m2","x":21.5,"y":0.0044},{"s":"m2","x":23,"y":0.0066},{"s":"m2","x":24.5,"y":0.0093},{"s":"m2","x":25.5,"y":0.0108},{"s":"m2","x":26.5,"y":0.0116},{"s":"m2","x":27.5,"y":0.011},{"s":"m2","x":28.5,"y":0.0093},{"s":"m2","x":29.5,"y":0.0074},{"s":"m2","x":30.5,"y":0.0062},{"s":"m2","x":31.5,"y":0.0057},{"s":"m2","x":32.5,"y":0.0057},{"s":"m2","x":33.5,"y":0.0054},{"s":"m2","x":34.6,"y":0.0051},{"s":"m2","x":36.1,"y":0.0045},{"s":"m2","x":37.2,"y":0.0045},{"s":"m2","x":38.7,"y":0.0034},{"s":"m2","x":40,"y":0.0017},{"s":"m2","x":41.3,"y":0.0007},{"s":"m2","x":42.6,"y":0.0001},{"s":"m2","x":44,"y":0},
{"s":"m3","x":2,"y":0},{"s":"m3","x":6,"y":0.00003},{"s":"m3","x":9,"y":0.0001},{"s":"m3","x":12,"y":0.0003},{"s":"m3","x":14,"y":0.0005},{"s":"m3","x":16,"y":0.0009},{"s":"m3","x":18,"y":0.0015},{"s":"m3","x":20,"y":0.0025},{"s":"m3","x":21.5,"y":0.0038},{"s":"m3","x":23,"y":0.006},{"s":"m3","x":24.5,"y":0.0088},{"s":"m3","x":25.5,"y":0.0104},{"s":"m3","x":26.5,"y":0.0112},{"s":"m3","x":27.5,"y":0.0108},{"s":"m3","x":28.5,"y":0.0093},{"s":"m3","x":29.5,"y":0.0076},{"s":"m3","x":30.5,"y":0.0063},{"s":"m3","x":31.5,"y":0.0056},{"s":"m3","x":33.5,"y":0.0049},{"s":"m3","x":35.4,"y":0.0044},{"s":"m3","x":36.7,"y":0.0042},{"s":"m3","x":37.7,"y":0.0034},{"s":"m3","x":38.7,"y":0.0021},{"s":"m3","x":40,"y":0.0009},{"s":"m3","x":41.3,"y":0.0003},{"s":"m3","x":42.5,"y":0},
{"s":"m4","x":2,"y":0},{"s":"m4","x":6,"y":0.00003},{"s":"m4","x":9,"y":0.0001},{"s":"m4","x":12,"y":0.0003},{"s":"m4","x":14,"y":0.0006},{"s":"m4","x":16,"y":0.001},{"s":"m4","x":18,"y":0.0017},{"s":"m4","x":20,"y":0.0028},{"s":"m4","x":21.5,"y":0.0041},{"s":"m4","x":23,"y":0.0064},{"s":"m4","x":24.5,"y":0.0092},{"s":"m4","x":25.5,"y":0.0106},{"s":"m4","x":26.5,"y":0.011},{"s":"m4","x":27.5,"y":0.0105},{"s":"m4","x":28.5,"y":0.0088},{"s":"m4","x":29.5,"y":0.0068},{"s":"m4","x":30.5,"y":0.0055},{"s":"m4","x":31.5,"y":0.005},{"s":"m4","x":32.5,"y":0.0044},{"s":"m4","x":34.6,"y":0.0032},{"s":"m4","x":36.1,"y":0.0017},{"s":"m4","x":37.7,"y":0.0007},{"s":"m4","x":39.2,"y":0.0001},{"s":"m4","x":40.5,"y":0},
{"s":"m5","x":2,"y":0},{"s":"m5","x":6,"y":0.00003},{"s":"m5","x":9,"y":0.0001},{"s":"m5","x":12,"y":0.0003},{"s":"m5","x":14,"y":0.0005},{"s":"m5","x":16,"y":0.001},{"s":"m5","x":18,"y":0.0017},{"s":"m5","x":20,"y":0.0027},{"s":"m5","x":21.5,"y":0.004},{"s":"m5","x":23,"y":0.0062},{"s":"m5","x":24.5,"y":0.009},{"s":"m5","x":25.5,"y":0.0108},{"s":"m5","x":26.3,"y":0.012},{"s":"m5","x":27.3,"y":0.0115},{"s":"m5","x":28.3,"y":0.0098},{"s":"m5","x":29.3,"y":0.0078},{"s":"m5","x":30.3,"y":0.0063},{"s":"m5","x":31.3,"y":0.0057},{"s":"m5","x":32,"y":0.0054},{"s":"m5","x":34.1,"y":0.0044},{"s":"m5","x":35.4,"y":0.0036},{"s":"m5","x":36.4,"y":0.0021},{"s":"m5","x":37.7,"y":0.0011},{"s":"m5","x":39.2,"y":0.0002},{"s":"m5","x":40.5,"y":0},
{"s":"7.4x","x":2,"y":0},{"s":"7.4x","x":8,"y":0.00003},{"s":"7.4x","x":12,"y":0.0001},{"s":"7.4x","x":15,"y":0.0003},{"s":"7.4x","x":17,"y":0.0008},{"s":"7.4x","x":19,"y":0.0016},{"s":"7.4x","x":20,"y":0.0023},{"s":"7.4x","x":21,"y":0.0033},{"s":"7.4x","x":22,"y":0.0051},{"s":"7.4x","x":23,"y":0.0075},{"s":"7.4x","x":24,"y":0.0098},{"s":"7.4x","x":25,"y":0.0117},{"s":"7.4x","x":26.2,"y":0.0128},{"s":"7.4x","x":27,"y":0.0123},{"s":"7.4x","x":28,"y":0.0104},{"s":"7.4x","x":29,"y":0.0082},{"s":"7.4x","x":29.9,"y":0.0062},{"s":"7.4x","x":30.7,"y":0.0052},{"s":"7.4x","x":31.5,"y":0.0044},{"s":"7.4x","x":33,"y":0.003},{"s":"7.4x","x":34.3,"y":0.0021},{"s":"7.4x","x":35.3,"y":0.0018},{"s":"7.4x","x":36.1,"y":0.0016},{"s":"7.4x","x":36.9,"y":0.0012},{"s":"7.4x","x":37.7,"y":0.0007},{"s":"7.4x","x":38.5,"y":0.0003},{"s":"7.4x","x":39.5,"y":0.00005},{"s":"7.4x","x":41,"y":0},
{"s":"11.5x","x":2,"y":0},{"s":"11.5x","x":8,"y":0.00002},{"s":"11.5x","x":12,"y":0.00005},{"s":"11.5x","x":15,"y":0.0001},{"s":"11.5x","x":17,"y":0.0002},{"s":"11.5x","x":18.5,"y":0.0004},{"s":"11.5x","x":20,"y":0.0008},{"s":"11.5x","x":21,"y":0.0016},{"s":"11.5x","x":22,"y":0.003},{"s":"11.5x","x":23,"y":0.005},{"s":"11.5x","x":24,"y":0.0075},{"s":"11.5x","x":25,"y":0.0098},{"s":"11.5x","x":26,"y":0.0117},{"s":"11.5x","x":26.8,"y":0.0122},{"s":"11.5x","x":27.6,"y":0.0115},{"s":"11.5x","x":28.5,"y":0.0095},{"s":"11.5x","x":29.2,"y":0.0078},{"s":"11.5x","x":29.9,"y":0.0065},{"s":"11.5x","x":31,"y":0.0058},{"s":"11.5x","x":32.5,"y":0.0051},{"s":"11.5x","x":33.5,"y":0.0045},{"s":"11.5x","x":34.6,"y":0.0039},{"s":"11.5x","x":35.8,"y":0.0035},{"s":"11.5x","x":36.9,"y":0.0032},{"s":"11.5x","x":37.7,"y":0.0023},{"s":"11.5x","x":38.5,"y":0.0014},{"s":"11.5x","x":39.2,"y":0.0009},{"s":"11.5x","x":40.2,"y":0.0004},{"s":"11.5x","x":41.3,"y":0.0001},{"s":"11.5x","x":42.5,"y":0},
{"s":"23.7x","x":2,"y":0},{"s":"23.7x","x":8,"y":0.00002},{"s":"23.7x","x":12,"y":0.00005},{"s":"23.7x","x":15,"y":0.0001},{"s":"23.7x","x":17,"y":0.0002},{"s":"23.7x","x":18.5,"y":0.0003},{"s":"23.7x","x":20,"y":0.0007},{"s":"23.7x","x":21,"y":0.0013},{"s":"23.7x","x":22,"y":0.0026},{"s":"23.7x","x":23,"y":0.0045},{"s":"23.7x","x":24,"y":0.007},{"s":"23.7x","x":25,"y":0.0094},{"s":"23.7x","x":26,"y":0.0113},{"s":"23.7x","x":26.9,"y":0.012},{"s":"23.7x","x":27.7,"y":0.0113},{"s":"23.7x","x":28.5,"y":0.0095},{"s":"23.7x","x":29.2,"y":0.0078},{"s":"23.7x","x":29.9,"y":0.0064},{"s":"23.7x","x":31,"y":0.0057},{"s":"23.7x","x":32,"y":0.0053},{"s":"23.7x","x":33.3,"y":0.0054},{"s":"23.7x","x":34.2,"y":0.006},{"s":"23.7x","x":34.8,"y":0.0063},{"s":"23.7x","x":35.5,"y":0.0058},{"s":"23.7x","x":36.4,"y":0.0036},{"s":"23.7x","x":37.1,"y":0.0021},{"s":"23.7x","x":37.7,"y":0.0013},{"s":"23.7x","x":39.2,"y":0.00045},{"s":"23.7x","x":40.8,"y":0.0001},{"s":"23.7x","x":42,"y":0},
{"s":"32x","x":-2,"y":0},{"s":"32x","x":3,"y":0.00001},{"s":"32x","x":5,"y":0.00005},{"s":"32x","x":6.5,"y":0.00015},{"s":"32x","x":8,"y":0.0002},{"s":"32x","x":10,"y":0.0003},{"s":"32x","x":11.5,"y":0.0004},{"s":"32x","x":13,"y":0.0006},{"s":"32x","x":14,"y":0.001},{"s":"32x","x":15,"y":0.002},{"s":"32x","x":16,"y":0.0032},{"s":"32x","x":17,"y":0.004},{"s":"32x","x":18,"y":0.0044},{"s":"32x","x":19,"y":0.0048},{"s":"32x","x":19.8,"y":0.0055},{"s":"32x","x":20.6,"y":0.0068},{"s":"32x","x":21.4,"y":0.0087},{"s":"32x","x":22.2,"y":0.011},{"s":"32x","x":23,"y":0.0133},{"s":"32x","x":23.7,"y":0.0148},{"s":"32x","x":24.3,"y":0.0152},{"s":"32x","x":24.9,"y":0.0148},{"s":"32x","x":25.5,"y":0.0133},{"s":"32x","x":26,"y":0.0112},{"s":"32x","x":26.5,"y":0.0082},{"s":"32x","x":27,"y":0.005},{"s":"32x","x":27.5,"y":0.0026},{"s":"32x","x":28,"y":0.0012},{"s":"32x","x":28.9,"y":0.0004},{"s":"32x","x":30.4,"y":0.0001},{"s":"32x","x":32.3,"y":0}
],
"d5":[
{"s":"m1","x":6,"y":0},{"s":"m1","x":8,"y":0.00003},{"s":"m1","x":9,"y":0.0001},{"s":"m1","x":10,"y":0.0004},{"s":"m1","x":11,"y":0.0011},{"s":"m1","x":12,"y":0.0027},{"s":"m1","x":13,"y":0.0058},{"s":"m1","x":14,"y":0.0098},{"s":"m1","x":15.1,"y":0.0131},{"s":"m1","x":16,"y":0.0118},{"s":"m1","x":17,"y":0.0085},{"s":"m1","x":18,"y":0.006},{"s":"m1","x":19,"y":0.0046},{"s":"m1","x":20,"y":0.004},{"s":"m1","x":21.5,"y":0.0038},{"s":"m1","x":23,"y":0.004},{"s":"m1","x":24.3,"y":0.0044},{"s":"m1","x":25.3,"y":0.0048},{"s":"m1","x":26.3,"y":0.0044},{"s":"m1","x":27.3,"y":0.0039},{"s":"m1","x":28.5,"y":0.0036},{"s":"m1","x":30,"y":0.0029},{"s":"m1","x":32,"y":0.002},{"s":"m1","x":34,"y":0.0012},{"s":"m1","x":36,"y":0.0005},{"s":"m1","x":38,"y":0.0001},{"s":"m1","x":40,"y":0},
{"s":"m2","x":6,"y":0},{"s":"m2","x":8,"y":0.00003},{"s":"m2","x":9,"y":0.0001},{"s":"m2","x":10,"y":0.0004},{"s":"m2","x":11,"y":0.0011},{"s":"m2","x":12,"y":0.0027},{"s":"m2","x":13,"y":0.0057},{"s":"m2","x":14,"y":0.0096},{"s":"m2","x":15.1,"y":0.0128},{"s":"m2","x":16,"y":0.0116},{"s":"m2","x":17,"y":0.0084},{"s":"m2","x":18,"y":0.006},{"s":"m2","x":19,"y":0.0045},{"s":"m2","x":20,"y":0.0039},{"s":"m2","x":21.5,"y":0.0036},{"s":"m2","x":23,"y":0.0037},{"s":"m2","x":25,"y":0.0039},{"s":"m2","x":27,"y":0.004},{"s":"m2","x":28.3,"y":0.0042},{"s":"m2","x":29.2,"y":0.0043},{"s":"m2","x":30.2,"y":0.0038},{"s":"m2","x":31.5,"y":0.003},{"s":"m2","x":33,"y":0.0022},{"s":"m2","x":35,"y":0.0012},{"s":"m2","x":37,"y":0.0004},{"s":"m2","x":39,"y":0.0001},{"s":"m2","x":41,"y":0},
{"s":"m3","x":6,"y":0},{"s":"m3","x":8,"y":0.00003},{"s":"m3","x":9,"y":0.0001},{"s":"m3","x":10,"y":0.0004},{"s":"m3","x":11,"y":0.0011},{"s":"m3","x":12,"y":0.0026},{"s":"m3","x":13,"y":0.0054},{"s":"m3","x":14,"y":0.009},{"s":"m3","x":15.1,"y":0.0118},{"s":"m3","x":16,"y":0.0107},{"s":"m3","x":17,"y":0.0078},{"s":"m3","x":18,"y":0.0055},{"s":"m3","x":19,"y":0.004},{"s":"m3","x":20,"y":0.0033},{"s":"m3","x":21.5,"y":0.0029},{"s":"m3","x":23,"y":0.0027},{"s":"m3","x":25,"y":0.0026},{"s":"m3","x":27,"y":0.0027},{"s":"m3","x":29,"y":0.0027},{"s":"m3","x":31,"y":0.0027},{"s":"m3","x":33,"y":0.0029},{"s":"m3","x":35.5,"y":0.0029},{"s":"m3","x":37,"y":0.0027},{"s":"m3","x":38.5,"y":0.0019},{"s":"m3","x":40,"y":0.0009},{"s":"m3","x":41.5,"y":0.0003},{"s":"m3","x":43,"y":0.00005},{"s":"m3","x":44.5,"y":0},
{"s":"m4","x":6,"y":0},{"s":"m4","x":8,"y":0.00003},{"s":"m4","x":9,"y":0.0001},{"s":"m4","x":10,"y":0.0004},{"s":"m4","x":11,"y":0.001},{"s":"m4","x":12,"y":0.0024},{"s":"m4","x":13,"y":0.0049},{"s":"m4","x":14,"y":0.008},{"s":"m4","x":15.1,"y":0.0103},{"s":"m4","x":16,"y":0.0095},{"s":"m4","x":17,"y":0.0072},{"s":"m4","x":18,"y":0.005},{"s":"m4","x":19,"y":0.0036},{"s":"m4","x":20,"y":0.0029},{"s":"m4","x":21.5,"y":0.0025},{"s":"m4","x":23,"y":0.0024},{"s":"m4","x":25,"y":0.0025},{"s":"m4","x":27,"y":0.0026},{"s":"m4","x":29,"y":0.0025},{"s":"m4","x":31,"y":0.0022},{"s":"m4","x":33,"y":0.0021},{"s":"m4","x":36,"y":0.0021},{"s":"m4","x":39,"y":0.0022},{"s":"m4","x":41.5,"y":0.0022},{"s":"m4","x":42.5,"y":0.0019},{"s":"m4","x":43.5,"y":0.0012},{"s":"m4","x":44.5,"y":0.0006},{"s":"m4","x":45.5,"y":0.0002},{"s":"m4","x":47,"y":0.00003},{"s":"m4","x":48.5,"y":0},
{"s":"m5","x":6,"y":0},{"s":"m5","x":8,"y":0.00003},{"s":"m5","x":9,"y":0.0001},{"s":"m5","x":10,"y":0.0004},{"s":"m5","x":11,"y":0.001},{"s":"m5","x":12,"y":0.0024},{"s":"m5","x":13,"y":0.0048},{"s":"m5","x":14,"y":0.0078},{"s":"m5","x":15.1,"y":0.0101},{"s":"m5","x":16,"y":0.0094},{"s":"m5","x":17,"y":0.0073},{"s":"m5","x":18,"y":0.0053},{"s":"m5","x":19,"y":0.004},{"s":"m5","x":20,"y":0.0034},{"s":"m5","x":21.5,"y":0.0031},{"s":"m5","x":23,"y":0.0031},{"s":"m5","x":25,"y":0.0034},{"s":"m5","x":27,"y":0.0038},{"s":"m5","x":28.5,"y":0.0039},{"s":"m5","x":30,"y":0.0035},{"s":"m5","x":32,"y":0.0026},{"s":"m5","x":34,"y":0.0018},{"s":"m5","x":36,"y":0.001},{"s":"m5","x":38,"y":0.0004},{"s":"m5","x":40,"y":0.0001},{"s":"m5","x":42,"y":0},
{"s":"7.4x","x":6,"y":0},{"s":"7.4x","x":8,"y":0.00003},{"s":"7.4x","x":9,"y":0.0001},{"s":"7.4x","x":10,"y":0.0004},{"s":"7.4x","x":11,"y":0.0011},{"s":"7.4x","x":12,"y":0.0027},{"s":"7.4x","x":13,"y":0.0057},{"s":"7.4x","x":14,"y":0.0095},{"s":"7.4x","x":15.2,"y":0.0127},{"s":"7.4x","x":16,"y":0.0115},{"s":"7.4x","x":17,"y":0.008},{"s":"7.4x","x":18,"y":0.0057},{"s":"7.4x","x":19,"y":0.0046},{"s":"7.4x","x":20,"y":0.0043},{"s":"7.4x","x":21,"y":0.0043},{"s":"7.4x","x":22.5,"y":0.0043},{"s":"7.4x","x":23.3,"y":0.0041},{"s":"7.4x","x":24,"y":0.0039},{"s":"7.4x","x":25,"y":0.004},{"s":"7.4x","x":26,"y":0.0044},{"s":"7.4x","x":27,"y":0.0046},{"s":"7.4x","x":27.8,"y":0.0044},{"s":"7.4x","x":28.6,"y":0.0037},{"s":"7.4x","x":29.5,"y":0.0029},{"s":"7.4x","x":30.5,"y":0.0024},{"s":"7.4x","x":32,"y":0.0019},{"s":"7.4x","x":34,"y":0.0013},{"s":"7.4x","x":35.5,"y":0.0009},{"s":"7.4x","x":37,"y":0.0005},{"s":"7.4x","x":38.5,"y":0.0002},{"s":"7.4x","x":40,"y":0.00004},{"s":"7.4x","x":41,"y":0},
{"s":"11.5x","x":6,"y":0},{"s":"11.5x","x":8,"y":0.00003},{"s":"11.5x","x":9,"y":0.0001},{"s":"11.5x","x":10,"y":0.0004},{"s":"11.5x","x":11,"y":0.001},{"s":"11.5x","x":12,"y":0.0025},{"s":"11.5x","x":13,"y":0.0052},{"s":"11.5x","x":14,"y":0.0085},{"s":"11.5x","x":15.1,"y":0.011},{"s":"11.5x","x":16,"y":0.0101},{"s":"11.5x","x":17,"y":0.0072},{"s":"11.5x","x":18,"y":0.0051},{"s":"11.5x","x":19,"y":0.004},{"s":"11.5x","x":20,"y":0.0035},{"s":"11.5x","x":21,"y":0.0032},{"s":"11.5x","x":22.5,"y":0.003},{"s":"11.5x","x":24,"y":0.0029},{"s":"11.5x","x":25.5,"y":0.0029},{"s":"11.5x","x":27,"y":0.0031},{"s":"11.5x","x":29,"y":0.0033},{"s":"11.5x","x":31,"y":0.0034},{"s":"11.5x","x":32.5,"y":0.0036},{"s":"11.5x","x":33.5,"y":0.0034},{"s":"11.5x","x":34.5,"y":0.003},{"s":"11.5x","x":35.5,"y":0.0025},{"s":"11.5x","x":37,"y":0.0016},{"s":"11.5x","x":38.5,"y":0.0008},{"s":"11.5x","x":40,"y":0.0003},{"s":"11.5x","x":41.5,"y":0.0001},{"s":"11.5x","x":43,"y":0},
{"s":"23.7x","x":6,"y":0},{"s":"23.7x","x":8,"y":0.00003},{"s":"23.7x","x":9,"y":0.0001},{"s":"23.7x","x":10,"y":0.0004},{"s":"23.7x","x":11,"y":0.001},{"s":"23.7x","x":12,"y":0.0025},{"s":"23.7x","x":13,"y":0.0051},{"s":"23.7x","x":14,"y":0.0083},{"s":"23.7x","x":15,"y":0.0106},{"s":"23.7x","x":16,"y":0.0098},{"s":"23.7x","x":17,"y":0.0068},{"s":"23.7x","x":18,"y":0.0048},{"s":"23.7x","x":19,"y":0.0037},{"s":"23.7x","x":20,"y":0.0031},{"s":"23.7x","x":21,"y":0.0028},{"s":"23.7x","x":22.5,"y":0.0027},{"s":"23.7x","x":24,"y":0.0026},{"s":"23.7x","x":26,"y":0.0026},{"s":"23.7x","x":27,"y":0.0028},{"s":"23.7x","x":28,"y":0.0035},{"s":"23.7x","x":29,"y":0.0042},{"s":"23.7x","x":30,"y":0.0045},{"s":"23.7x","x":31,"y":0.0043},{"s":"23.7x","x":32,"y":0.004},{"s":"23.7x","x":33,"y":0.0036},{"s":"23.7x","x":34,"y":0.0031},{"s":"23.7x","x":35,"y":0.0025},{"s":"23.7x","x":36,"y":0.0017},{"s":"23.7x","x":37,"y":0.001},{"s":"23.7x","x":38,"y":0.0005},{"s":"23.7x","x":39,"y":0.0002},{"s":"23.7x","x":41,"y":0},
{"s":"32x","x":1.5,"y":0},{"s":"32x","x":2.5,"y":0.00005},{"s":"32x","x":3.3,"y":0.0002},{"s":"32x","x":4,"y":0.0003},{"s":"32x","x":4.8,"y":0.0004},{"s":"32x","x":5.5,"y":0.0009},{"s":"32x","x":6.3,"y":0.002},{"s":"32x","x":7,"y":0.0033},{"s":"32x","x":7.7,"y":0.0045},{"s":"32x","x":8.4,"y":0.0051},{"s":"32x","x":9,"y":0.0052},{"s":"32x","x":9.6,"y":0.0053},{"s":"32x","x":10.2,"y":0.006},{"s":"32x","x":10.8,"y":0.0075},{"s":"32x","x":11.5,"y":0.0099},{"s":"32x","x":12.2,"y":0.0127},{"s":"32x","x":12.9,"y":0.0144},{"s":"32x","x":13.5,"y":0.0135},{"s":"32x","x":14,"y":0.0115},{"s":"32x","x":14.9,"y":0.0081},{"s":"32x","x":16,"y":0.0063},{"s":"32x","x":17.3,"y":0.005},{"s":"32x","x":18.1,"y":0.0045},{"s":"32x","x":19.1,"y":0.0038},{"s":"32x","x":20.2,"y":0.0029},{"s":"32x","x":21.3,"y":0.0021},{"s":"32x","x":22.3,"y":0.0018},{"s":"32x","x":23.6,"y":0.002},{"s":"32x","x":24.5,"y":0.0017},{"s":"32x","x":25.5,"y":0.0011},{"s":"32x","x":26.5,"y":0.0006},{"s":"32x","x":28,"y":0.0002},{"s":"32x","x":30,"y":0.00007},{"s":"32x","x":31.5,"y":0.0001},{"s":"32x","x":33,"y":0.00003},{"s":"32x","x":35,"y":0}
],
"d6":[
{"s":"m1","x":5,"y":0},{"s":"m1","x":6.5,"y":0.0001},{"s":"m1","x":8,"y":0.0006},{"s":"m1","x":9,"y":0.0014},{"s":"m1","x":10,"y":0.0029},{"s":"m1","x":11,"y":0.005},{"s":"m1","x":12,"y":0.007},{"s":"m1","x":13,"y":0.0085},{"s":"m1","x":13.9,"y":0.009},{"s":"m1","x":15,"y":0.0082},{"s":"m1","x":16,"y":0.0068},{"s":"m1","x":17,"y":0.0053},{"s":"m1","x":18,"y":0.0041},{"s":"m1","x":19,"y":0.0032},{"s":"m1","x":20,"y":0.0027},{"s":"m1","x":21.5,"y":0.0023},{"s":"m1","x":23,"y":0.0022},{"s":"m1","x":25,"y":0.0021},{"s":"m1","x":27,"y":0.0019},{"s":"m1","x":29,"y":0.0018},{"s":"m1","x":30.5,"y":0.002},{"s":"m1","x":32,"y":0.0025},{"s":"m1","x":33.5,"y":0.0031},{"s":"m1","x":34.7,"y":0.0033},{"s":"m1","x":36,"y":0.0031},{"s":"m1","x":37.5,"y":0.0028},{"s":"m1","x":39,"y":0.0024},{"s":"m1","x":40.5,"y":0.002},{"s":"m1","x":42,"y":0.0016},{"s":"m1","x":43.5,"y":0.0011},{"s":"m1","x":45,"y":0.0005},{"s":"m1","x":46.5,"y":0.0001},{"s":"m1","x":48,"y":0},
{"s":"m2","x":5,"y":0},{"s":"m2","x":6.5,"y":0.0001},{"s":"m2","x":8,"y":0.0006},{"s":"m2","x":9,"y":0.0014},{"s":"m2","x":10,"y":0.0028},{"s":"m2","x":11,"y":0.0049},{"s":"m2","x":12,"y":0.0069},{"s":"m2","x":13,"y":0.0084},{"s":"m2","x":13.9,"y":0.0089},{"s":"m2","x":15,"y":0.0081},{"s":"m2","x":16,"y":0.0067},{"s":"m2","x":17,"y":0.0052},{"s":"m2","x":18,"y":0.004},{"s":"m2","x":19,"y":0.0032},{"s":"m2","x":20,"y":0.0027},{"s":"m2","x":21.5,"y":0.0024},{"s":"m2","x":23,"y":0.0023},{"s":"m2","x":25,"y":0.0022},{"s":"m2","x":27,"y":0.002},{"s":"m2","x":29,"y":0.0016},{"s":"m2","x":31,"y":0.0014},{"s":"m2","x":33,"y":0.0015},{"s":"m2","x":35,"y":0.0018},{"s":"m2","x":37,"y":0.0022},{"s":"m2","x":39,"y":0.0028},{"s":"m2","x":40.5,"y":0.0032},{"s":"m2","x":41.3,"y":0.0033},{"s":"m2","x":42.5,"y":0.0031},{"s":"m2","x":43.5,"y":0.0024},{"s":"m2","x":44.5,"y":0.0015},{"s":"m2","x":45.5,"y":0.0007},{"s":"m2","x":46.5,"y":0.0002},{"s":"m2","x":48,"y":0},
{"s":"m3","x":5,"y":0},{"s":"m3","x":6.5,"y":0.0001},{"s":"m3","x":8,"y":0.0006},{"s":"m3","x":9,"y":0.0014},{"s":"m3","x":10,"y":0.0028},{"s":"m3","x":11,"y":0.0048},{"s":"m3","x":12,"y":0.0068},{"s":"m3","x":13,"y":0.0083},{"s":"m3","x":13.9,"y":0.0088},{"s":"m3","x":15,"y":0.008},{"s":"m3","x":16,"y":0.0066},{"s":"m3","x":17,"y":0.0051},{"s":"m3","x":18,"y":0.0039},{"s":"m3","x":19,"y":0.0031},{"s":"m3","x":20,"y":0.0026},{"s":"m3","x":21.5,"y":0.0023},{"s":"m3","x":23,"y":0.0022},{"s":"m3","x":25,"y":0.0021},{"s":"m3","x":27,"y":0.0018},{"s":"m3","x":29,"y":0.0014},{"s":"m3","x":31,"y":0.0012},{"s":"m3","x":33,"y":0.0013},{"s":"m3","x":35,"y":0.0016},{"s":"m3","x":37,"y":0.0022},{"s":"m3","x":38.5,"y":0.0028},{"s":"m3","x":39.6,"y":0.003},{"s":"m3","x":40.8,"y":0.0028},{"s":"m3","x":42,"y":0.0022},{"s":"m3","x":43.5,"y":0.0013},{"s":"m3","x":45,"y":0.0005},{"s":"m3","x":46.5,"y":0.0001},{"s":"m3","x":48,"y":0},
{"s":"m4","x":5,"y":0},{"s":"m4","x":6.5,"y":0.0001},{"s":"m4","x":8,"y":0.0006},{"s":"m4","x":9,"y":0.0014},{"s":"m4","x":10,"y":0.0028},{"s":"m4","x":11,"y":0.0049},{"s":"m4","x":12,"y":0.0069},{"s":"m4","x":13,"y":0.0083},{"s":"m4","x":13.9,"y":0.0087},{"s":"m4","x":15,"y":0.008},{"s":"m4","x":16,"y":0.0066},{"s":"m4","x":17,"y":0.0052},{"s":"m4","x":18,"y":0.004},{"s":"m4","x":19,"y":0.0032},{"s":"m4","x":20,"y":0.0027},{"s":"m4","x":21.5,"y":0.0023},{"s":"m4","x":23,"y":0.0023},{"s":"m4","x":25,"y":0.0022},{"s":"m4","x":27,"y":0.002},{"s":"m4","x":29,"y":0.0017},{"s":"m4","x":31,"y":0.0016},{"s":"m4","x":33,"y":0.0018},{"s":"m4","x":35,"y":0.0021},{"s":"m4","x":37,"y":0.0025},{"s":"m4","x":39,"y":0.0029},{"s":"m4","x":40.5,"y":0.0029},{"s":"m4","x":42,"y":0.0025},{"s":"m4","x":43.5,"y":0.0015},{"s":"m4","x":45,"y":0.0005},{"s":"m4","x":46.5,"y":0.0001},{"s":"m4","x":48,"y":0},
{"s":"m5","x":5,"y":0},{"s":"m5","x":6.5,"y":0.0001},{"s":"m5","x":8,"y":0.0006},{"s":"m5","x":9,"y":0.0014},{"s":"m5","x":10,"y":0.0028},{"s":"m5","x":11,"y":0.0048},{"s":"m5","x":12,"y":0.0068},{"s":"m5","x":13,"y":0.0082},{"s":"m5","x":13.9,"y":0.0086},{"s":"m5","x":15,"y":0.0079},{"s":"m5","x":16,"y":0.0065},{"s":"m5","x":17,"y":0.0051},{"s":"m5","x":18,"y":0.0039},{"s":"m5","x":19,"y":0.0031},{"s":"m5","x":20,"y":0.0026},{"s":"m5","x":21.5,"y":0.0023},{"s":"m5","x":23,"y":0.0022},{"s":"m5","x":25,"y":0.0022},{"s":"m5","x":27,"y":0.002},{"s":"m5","x":29,"y":0.0018},{"s":"m5","x":31,"y":0.0017},{"s":"m5","x":33,"y":0.002},{"s":"m5","x":35,"y":0.0024},{"s":"m5","x":37,"y":0.0027},{"s":"m5","x":38.5,"y":0.0028},{"s":"m5","x":40,"y":0.0024},{"s":"m5","x":41.5,"y":0.0019},{"s":"m5","x":43,"y":0.0015},{"s":"m5","x":44.5,"y":0.001},{"s":"m5","x":46,"y":0.0004},{"s":"m5","x":47.5,"y":0.0001},{"s":"m5","x":49,"y":0},
{"s":"7.4x","x":5,"y":0},{"s":"7.4x","x":6.5,"y":0.0001},{"s":"7.4x","x":8,"y":0.0005},{"s":"7.4x","x":9,"y":0.0012},{"s":"7.4x","x":10,"y":0.0025},{"s":"7.4x","x":11,"y":0.0044},{"s":"7.4x","x":12,"y":0.0063},{"s":"7.4x","x":13,"y":0.0077},{"s":"7.4x","x":13.9,"y":0.0082},{"s":"7.4x","x":15,"y":0.0075},{"s":"7.4x","x":16,"y":0.0062},{"s":"7.4x","x":17,"y":0.0048},{"s":"7.4x","x":18,"y":0.0036},{"s":"7.4x","x":19,"y":0.0028},{"s":"7.4x","x":20,"y":0.0023},{"s":"7.4x","x":21,"y":0.0019},{"s":"7.4x","x":23,"y":0.0016},{"s":"7.4x","x":25,"y":0.0014},{"s":"7.4x","x":27,"y":0.0014},{"s":"7.4x","x":29,"y":0.0015},{"s":"7.4x","x":31,"y":0.0017},{"s":"7.4x","x":33,"y":0.0018},{"s":"7.4x","x":35,"y":0.002},{"s":"7.4x","x":37,"y":0.0021},{"s":"7.4x","x":39,"y":0.0022},{"s":"7.4x","x":40.5,"y":0.0023},{"s":"7.4x","x":42,"y":0.0027},{"s":"7.4x","x":43.3,"y":0.0029},{"s":"7.4x","x":44.3,"y":0.0025},{"s":"7.4x","x":45.1,"y":0.0017},{"s":"7.4x","x":46.3,"y":0.00075},{"s":"7.4x","x":47.3,"y":0.0003},{"s":"7.4x","x":48.5,"y":0.0001},{"s":"7.4x","x":50,"y":0.00002},{"s":"7.4x","x":54,"y":0},
{"s":"11.5x","x":5,"y":0},{"s":"11.5x","x":6.5,"y":0.0001},{"s":"11.5x","x":8,"y":0.0005},{"s":"11.5x","x":9,"y":0.0013},{"s":"11.5x","x":10,"y":0.0026},{"s":"11.5x","x":11,"y":0.0046},{"s":"11.5x","x":12,"y":0.0065},{"s":"11.5x","x":13,"y":0.0079},{"s":"11.5x","x":13.9,"y":0.0084},{"s":"11.5x","x":15,"y":0.0077},{"s":"11.5x","x":16,"y":0.0064},{"s":"11.5x","x":17,"y":0.005},{"s":"11.5x","x":18,"y":0.0038},{"s":"11.5x","x":19,"y":0.003},{"s":"11.5x","x":20,"y":0.0024},{"s":"11.5x","x":22,"y":0.0018},{"s":"11.5x","x":24,"y":0.0016},{"s":"11.5x","x":26,"y":0.0016},{"s":"11.5x","x":28,"y":0.0017},{"s":"11.5x","x":29.5,"y":0.0019},{"s":"11.5x","x":31,"y":0.002},{"s":"11.5x","x":32.5,"y":0.0019},{"s":"11.5x","x":34,"y":0.0019},{"s":"11.5x","x":36,"y":0.002},{"s":"11.5x","x":38,"y":0.0022},{"s":"11.5x","x":40,"y":0.0027},{"s":"11.5x","x":41.7,"y":0.0029},{"s":"11.5x","x":42.8,"y":0.0027},{"s":"11.5x","x":43.9,"y":0.0021},{"s":"11.5x","x":44.7,"y":0.0015},{"s":"11.5x","x":45.4,"y":0.001},{"s":"11.5x","x":46.3,"y":0.0005},{"s":"11.5x","x":47.4,"y":0.0002},{"s":"11.5x","x":49,"y":0.00003},{"s":"11.5x","x":52,"y":0},
{"s":"23.7x","x":5,"y":0},{"s":"23.7x","x":6.5,"y":0.0001},{"s":"23.7x","x":8,"y":0.0005},{"s":"23.7x","x":9,"y":0.0013},{"s":"23.7x","x":10,"y":0.0027},{"s":"23.7x","x":11,"y":0.0047},{"s":"23.7x","x":12,"y":0.0066},{"s":"23.7x","x":13,"y":0.008},{"s":"23.7x","x":13.9,"y":0.0085},{"s":"23.7x","x":15,"y":0.0078},{"s":"23.7x","x":16,"y":0.0064},{"s":"23.7x","x":17,"y":0.005},{"s":"23.7x","x":18,"y":0.0038},{"s":"23.7x","x":19,"y":0.003},{"s":"23.7x","x":20,"y":0.0024},{"s":"23.7x","x":22,"y":0.0019},{"s":"23.7x","x":24,"y":0.0016},{"s":"23.7x","x":26,"y":0.0016},{"s":"23.7x","x":28,"y":0.0016},{"s":"23.7x","x":30,"y":0.0016},{"s":"23.7x","x":32,"y":0.0016},{"s":"23.7x","x":33.5,"y":0.0019},{"s":"23.7x","x":35,"y":0.0024},{"s":"23.7x","x":36.5,"y":0.0031},{"s":"23.7x","x":38,"y":0.0037},{"s":"23.7x","x":39.2,"y":0.0039},{"s":"23.7x","x":40.2,"y":0.0035},{"s":"23.7x","x":41.1,"y":0.0025},{"s":"23.7x","x":42,"y":0.0016},{"s":"23.7x","x":42.8,"y":0.0011},{"s":"23.7x","x":43.7,"y":0.0007},{"s":"23.7x","x":44.5,"y":0.0004},{"s":"23.7x","x":46,"y":0.0001},{"s":"23.7x","x":48,"y":0},
{"s":"32x","x":2,"y":0},{"s":"32x","x":3.5,"y":0.00005},{"s":"32x","x":4.5,"y":0.0002},{"s":"32x","x":5.5,"y":0.0006},{"s":"32x","x":6.5,"y":0.0014},{"s":"32x","x":7.5,"y":0.0029},{"s":"32x","x":8.5,"y":0.0049},{"s":"32x","x":9.5,"y":0.0067},{"s":"32x","x":10.5,"y":0.0075},{"s":"32x","x":11.3,"y":0.0071},{"s":"32x","x":12,"y":0.0063},{"s":"32x","x":12.8,"y":0.0055},{"s":"32x","x":14,"y":0.0045},{"s":"32x","x":15.1,"y":0.0038},{"s":"32x","x":16.5,"y":0.0031},{"s":"32x","x":18,"y":0.0027},{"s":"32x","x":20.3,"y":0.002},{"s":"32x","x":22,"y":0.002},{"s":"32x","x":24,"y":0.002},{"s":"32x","x":25.5,"y":0.0019},{"s":"32x","x":27.2,"y":0.0016},{"s":"32x","x":28.5,"y":0.0017},{"s":"32x","x":30,"y":0.0021},{"s":"32x","x":31.3,"y":0.0029},{"s":"32x","x":32.4,"y":0.004},{"s":"32x","x":33.5,"y":0.0045},{"s":"32x","x":34.7,"y":0.0047},{"s":"32x","x":35.8,"y":0.0042},{"s":"32x","x":37,"y":0.0024},{"s":"32x","x":38.2,"y":0.0011},{"s":"32x","x":39.2,"y":0.0005},{"s":"32x","x":39.9,"y":0.00025},{"s":"32x","x":41.5,"y":0.00003},{"s":"32x","x":44.5,"y":0}
]
},
"columns":3,
"spacing":{"row":22,"column":66},
"resolve":{"scale":{"color":"independent","x":"independent","y":"independent"},"legend":{"color":"independent"}},
"concat":[
{"title":"Density","width":330,"height":254,"data":{"name":"d1"},"mark":{"type":"line","clip":true},
 "encoding":{
  "x":{"field":"x","type":"quantitative","scale":{"domain":[-2.7,56.7],"nice":false,"zero":false},"axis":{"values":[0,10,20,30,40,50],"title":"psnr"}},
  "y":{"field":"y","type":"quantitative","scale":{"domain":[0,0.0104],"nice":false},"axis":{"values":[0,0.002,0.004,0.006,0.008,0.01],"format":".3f","title":"Prob density"}},
  "color":{"field":"s","type":"nominal","scale":{"domain":["m1","m2","m3","m4","m5","7.4x","11.5x","23.7x","32x"],"range":["#888888","#888888","#888888","#888888","#888888","#008000","#ff1a1a","#3d86c6","#800080"]},"legend":{"legendX":210,"labelExpr":"indexof(datum.label,'m')==0 ? 'raw data model' + substring(datum.label,1) : datum.label"}}}},
{"title":"Velocity X","width":330,"height":254,"data":{"name":"d2"},"mark":{"type":"line","clip":true},
 "encoding":{
  "x":{"field":"x","type":"quantitative","scale":{"domain":[-6.1,43.1],"nice":false,"zero":false},"axis":{"values":[0,10,20,30,40],"title":"psnr"}},
  "y":{"field":"y","type":"quantitative","scale":{"domain":[0,0.01044],"nice":false},"axis":{"values":[0,0.002,0.004,0.006,0.008,0.01],"format":".3f","title":"Prob density"}},
  "color":{"field":"s","type":"nominal","scale":{"domain":["m1","m2","m3","m4","m5","7.4x","11.5x","23.7x","32x"],"range":["#888888","#888888","#888888","#888888","#888888","#008000","#ff1a1a","#3d86c6","#800080"]},"legend":{"legendX":4.5,"labelExpr":"indexof(datum.label,'m')==0 ? 'raw data model' + substring(datum.label,1) : datum.label"}}}},
{"title":"Velocity Y","width":330,"height":254,"data":{"name":"d3"},"mark":{"type":"line","clip":true},
 "encoding":{
  "x":{"field":"x","type":"quantitative","scale":{"domain":[-22.8,44.1],"nice":false,"zero":false},"axis":{"values":[-20,-10,0,10,20,30,40],"title":"psnr"}},
  "y":{"field":"y","type":"quantitative","scale":{"domain":[0,0.01377],"nice":false},"axis":{"values":[0,0.002,0.004,0.006,0.008,0.01,0.012],"format":".3f","title":"Prob density"}},
  "color":{"field":"s","type":"nominal","scale":{"domain":["m1","m2","m3","m4","m5","7.4x","11.5x","23.7x","32x"],"range":["#888888","#888888","#888888","#888888","#888888","#008000","#ff1a1a","#3d86c6","#800080"]},"legend":{"legendX":4.5,"labelExpr":"indexof(datum.label,'m')==0 ? 'raw data model' + substring(datum.label,1) : datum.label"}}}},
{"title":"Pressure","width":330,"height":254,"data":{"name":"d4"},"mark":{"type":"line","clip":true},
 "encoding":{
  "x":{"field":"x","type":"quantitative","scale":{"domain":[-4.2,47.1],"nice":false,"zero":false},"axis":{"values":[0,10,20,30,40],"title":"psnr"}},
  "y":{"field":"y","type":"quantitative","scale":{"domain":[0,0.01596],"nice":false},"axis":{"values":[0,0.002,0.004,0.006,0.008,0.01,0.012,0.014],"format":".3f","title":"Prob density"}},
  "color":{"field":"s","type":"nominal","scale":{"domain":["m1","m2","m3","m4","m5","7.4x","11.5x","23.7x","32x"],"range":["#888888","#888888","#888888","#888888","#888888","#008000","#ff1a1a","#3d86c6","#800080"]},"legend":{"legendX":4.5,"labelExpr":"indexof(datum.label,'m')==0 ? 'raw data model' + substring(datum.label,1) : datum.label"}}}},
{"title":"Energy","width":330,"height":254,"data":{"name":"d5"},"mark":{"type":"line","clip":true},
 "encoding":{
  "x":{"field":"x","type":"quantitative","scale":{"domain":[-0.75,51.7],"nice":false,"zero":false},"axis":{"values":[0,10,20,30,40,50],"title":"psnr"}},
  "y":{"field":"y","type":"quantitative","scale":{"domain":[0,0.01503],"nice":false},"axis":{"values":[0,0.002,0.004,0.006,0.008,0.01,0.012,0.014],"format":".3f","title":"Prob density"}},
  "color":{"field":"s","type":"nominal","scale":{"domain":["m1","m2","m3","m4","m5","7.4x","11.5x","23.7x","32x"],"range":["#888888","#888888","#888888","#888888","#888888","#008000","#ff1a1a","#3d86c6","#800080"]},"legend":{"legendX":210,"labelExpr":"indexof(datum.label,'m')==0 ? 'raw data model' + substring(datum.label,1) : datum.label"}}}},
{"title":"Material","width":330,"height":254,"data":{"name":"d6"},"mark":{"type":"line","clip":true},
 "encoding":{
  "x":{"field":"x","type":"quantitative","scale":{"domain":[-0.57,56.6],"nice":false,"zero":false},"axis":{"values":[0,10,20,30,40,50],"title":"psnr"}},
  "y":{"field":"y","type":"quantitative","scale":{"domain":[0,0.00945],"nice":false},"axis":{"values":[0,0.002,0.004,0.006,0.008],"format":".3f","title":"Prob density"}},
  "color":{"field":"s","type":"nominal","scale":{"domain":["m1","m2","m3","m4","m5","7.4x","11.5x","23.7x","32x"],"range":["#888888","#888888","#888888","#888888","#888888","#008000","#ff1a1a","#3d86c6","#800080"]},"legend":{"legendX":210,"labelExpr":"indexof(datum.label,'m')==0 ? 'raw data model' + substring(datum.label,1) : datum.label"}}}}
]
}
